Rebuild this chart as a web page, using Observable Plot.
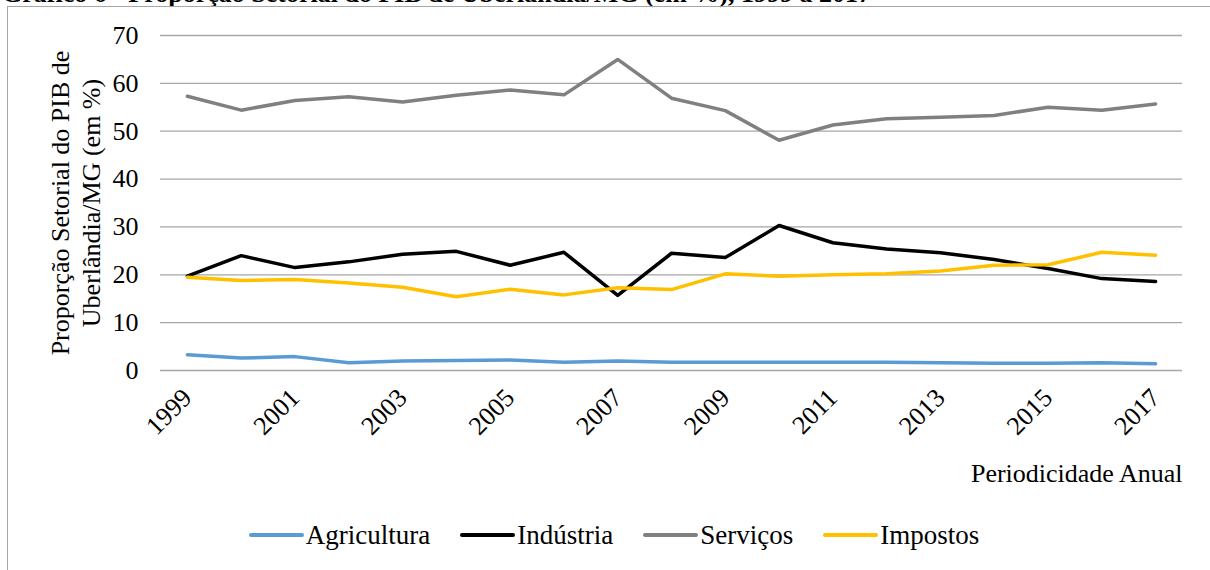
<!DOCTYPE html>
<html><head><meta charset="utf-8">
<script src="https://cdn.jsdelivr.net/npm/d3@7"></script>
<script src="https://cdn.jsdelivr.net/npm/@observablehq/plot@0.6"></script>
<style>
body{margin:0;background:#fff;font-family:"Liberation Serif","Times New Roman",serif;}
#wrap{position:relative;width:1210px;height:570px;overflow:hidden;background:#fff;}
#frame{position:absolute;left:7px;top:6px;width:1240px;height:620px;border:1.5px solid #a6a6a6;box-sizing:border-box;}
#title{position:absolute;left:2px;top:-21px;font-weight:bold;font-size:26px;white-space:nowrap;color:#000;line-height:normal;}
#chart{position:absolute;left:0;top:0;}
#chart svg, #chart svg text{font-family:"Liberation Serif","Times New Roman",serif !important;}
#legend{position:absolute;top:520px;left:0;width:1228px;height:30px;display:flex;justify-content:center;align-items:center;font-size:27px;color:#000;}
.item{display:flex;align-items:center;margin:0 15px;}
.sw{width:55px;height:3.5px;border-radius:2px;margin-right:2px;}
</style></head>
<body>
<div id="wrap">
  <div id="title">Gráfico 6 - Proporção Setorial do PIB de Uberlândia/MG (em %), 1999 a 2017</div>
  <div id="frame"></div>
  <div id="chart"></div>
  <div id="legend"></div>
</div>
<script>
const years = [1999,2000,2001,2002,2003,2004,2005,2006,2007,2008,2009,2010,2011,2012,2013,2014,2015,2016,2017];
const agricultura = [3.3,2.6,2.9,1.6,2.0,2.1,2.2,1.7,2.0,1.7,1.7,1.7,1.7,1.7,1.6,1.5,1.5,1.6,1.4];
const industria   = [19.7,24.0,21.5,22.7,24.3,24.9,22.0,24.7,15.7,24.5,23.6,30.3,26.7,25.4,24.6,23.2,21.3,19.2,18.6];
const servicos    = [57.3,54.4,56.4,57.2,56.1,57.5,58.6,57.6,65.0,56.9,54.3,48.1,51.3,52.6,52.9,53.3,55.0,54.4,55.7];
const impostos    = [19.5,18.8,19.0,18.3,17.4,15.4,17.0,15.8,17.3,16.9,20.2,19.7,20.0,20.2,20.8,22.0,22.1,24.7,24.1];
const sectors = ["Agricultura","Indústria","Serviços","Impostos"];
const colors = ["#5b9bd5","#000000","#808080","#ffc000"];
const xTicks = [1999,2001,2003,2005,2007,2009,2011,2013,2015,2017];
const yTicks = [0,10,20,30,40,50,60,70];
const yTitle = "Proporção Setorial do PIB de\nUberlândia/MG (em %)";
const xTitle = "Periodicidade Anual";

const series = [agricultura, industria, servicos, impostos];
const rows = sectors.flatMap((s, k) => years.map((y, i) => ({year: y, sector: s, value: series[k][i]})));

const font = "Liberation Serif, Times New Roman, serif";
const chart = Plot.plot({
  width: 1210, height: 500,
  marginLeft: 160, marginRight: 28, marginTop: 35, marginBottom: 130,
  style: {fontFamily: font, fontSize: "26px", background: "transparent", color: "#000"},
  x: {type: "linear", domain: [1998.5, 2017.5]},
  y: {domain: [0, 70]},
  color: {domain: sectors, range: colors},
  marks: [
    Plot.gridY(yTicks, {stroke: "#a6a6a6", strokeOpacity: 1, strokeWidth: 1.3}),
    Plot.axisY(yTicks, {tickSize: 0, tickPadding: 22, label: null, fontSize: 26}),
    Plot.axisX(xTicks, {tickSize: 0, tickRotate: -45, tickPadding: 23, tickFormat: d => String(d),
      label: null, fontSize: 26}),
    Plot.line(rows, {x: "year", y: "value", z: "sector", stroke: "sector", strokeWidth: 3.5,
      strokeLinecap: "round", strokeLinejoin: "round"}),
    Plot.text([yTitle], {frameAnchor: "left", textAnchor: "middle", lineAnchor: "middle", rotate: -90, dx: -86, lineHeight: 1.2, fontSize: 26}),
    Plot.text([xTitle], {frameAnchor: "bottom-right", textAnchor: "end", lineAnchor: "middle", dy: 103, fontSize: 26})
  ]
});
document.getElementById("chart").append(chart);

const legend = document.getElementById("legend");
sectors.forEach((s, k) => {
  const it = document.createElement("div"); it.className = "item";
  const sw = document.createElement("div"); sw.className = "sw"; sw.style.background = colors[k];
  const tx = document.createElement("span"); tx.textContent = s;
  it.append(sw, tx); legend.append(it);
});
</script>
</body></html>
